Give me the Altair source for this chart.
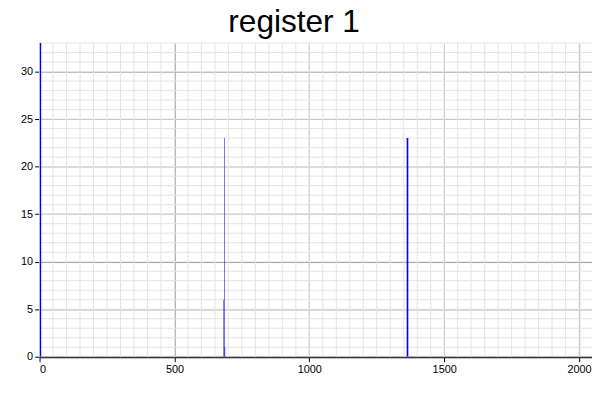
import altair as alt
import pandas as pd

bin_start = [0, 682, 684, 686, 1361]
bin_end = [6, 684, 686, 688, 1367]
counts = [40, 6, 23, 1, 23]
x_minor = list(range(0, 2049, 50))
y_minor = list(range(0, 34, 1))

bars = pd.DataFrame({"s": bin_start, "e": bin_end, "c": counts})
xs = alt.Scale(domain=[0, 2048], nice=False, zero=False)
ys = alt.Scale(domain=[0, 33], nice=False)

minor_x = alt.Chart(pd.DataFrame({"v": x_minor})).mark_rule(color="#e4e4e4", strokeWidth=1).encode(
    x=alt.X("v:Q", scale=xs))
minor_y = alt.Chart(pd.DataFrame({"v": y_minor})).mark_rule(color="#e4e4e4", strokeWidth=1).encode(
    y=alt.Y("v:Q", scale=ys))

bar = alt.Chart(bars).mark_bar(color="#0000ff", clip=True).encode(
    x=alt.X("s:Q", scale=xs, title=None,
            axis=alt.Axis(values=[0, 500, 1000, 1500, 2000], format="d", grid=True, gridColor="#999999",
                          domainColor="black", domainWidth=2, tickColor="black", labelColor="black",
                          labelFont="Liberation Sans", labelFontSize=11)),
    x2="e:Q",
    y=alt.Y("c:Q", scale=ys, title=None,
            axis=alt.Axis(values=[0, 5, 10, 15, 20, 25, 30], format="d", grid=True, gridColor="#999999",
                          domain=False, tickColor="black", labelColor="black",
                          labelFont="Liberation Sans", labelFontSize=11)),
    y2=alt.datum(0),
)

chart = alt.layer(minor_x, minor_y, bar).properties(
    width=560, height=318,
    title=alt.TitleParams("register 1", font="Liberation Sans", fontSize=32, fontWeight="normal",
                          color="black", dx=-22, offset=4),
    autosize=alt.AutoSizeParams(type="none"),
    padding={"left": 32, "top": 33, "right": 0, "bottom": 20},
).configure_view(stroke=None)

chart.save("out.html", embed_options={"renderer": "svg", "actions": False})
